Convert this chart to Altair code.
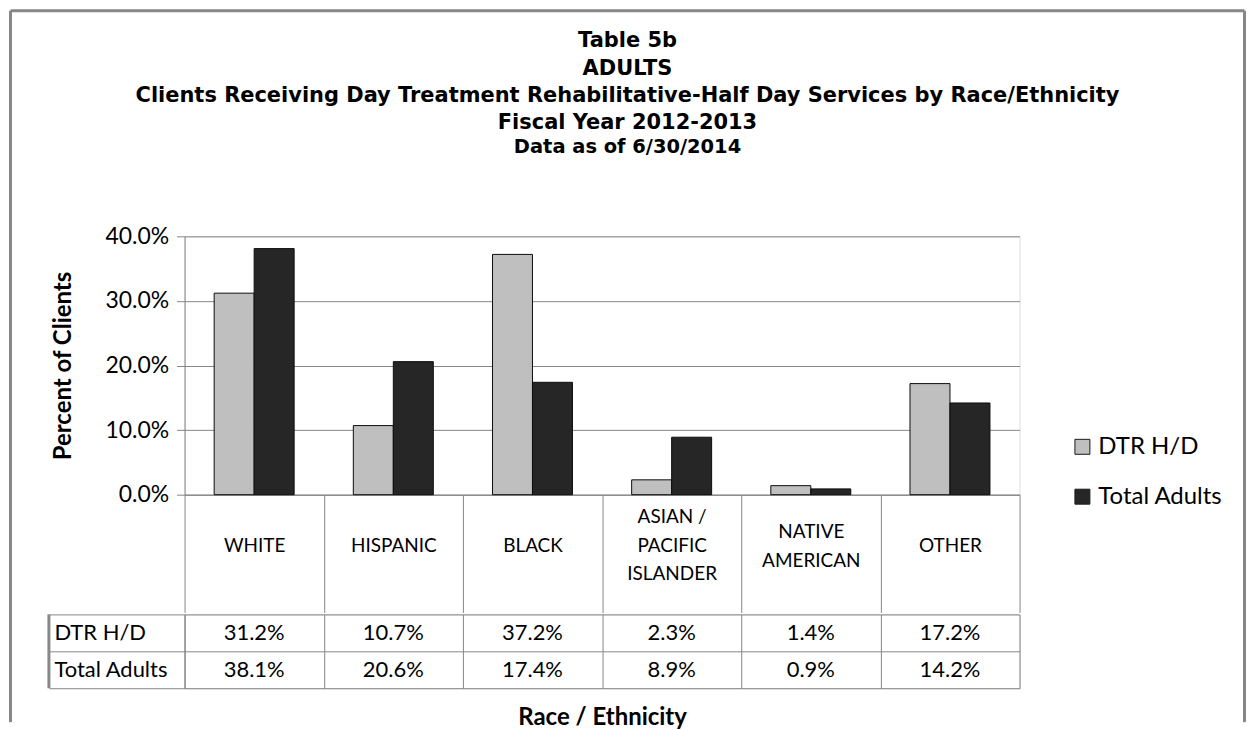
import altair as alt
import pandas as pd

# ---- data ----
categories = ["WHITE", "HISPANIC", "BLACK", "ASIAN /|PACIFIC|ISLANDER", "NATIVE|AMERICAN", "OTHER"]
series = ["DTR H/D", "Total Adults"]
dtr_values = [31.2, 10.7, 37.2, 2.3, 1.4, 17.2]
total_values = [38.1, 20.6, 17.4, 8.9, 0.9, 14.2]
y_ticks = [0.0, 0.1, 0.2, 0.3, 0.4]
title_lines = [
    "Table 5b",
    "ADULTS",
    "Clients Receiving Day Treatment Rehabilitative-Half Day Services by Race/Ethnicity",
    "Fiscal Year 2012-2013",
]
subtitle_line = "Data as of 6/30/2014"

rows = []
for s, vals in zip(series, [dtr_values, total_values]):
    for c, v in zip(categories, vals):
        rows.append({"category": c, "series": s, "value": v / 100})
df = pd.DataFrame(rows)
frame_df = pd.DataFrame({"k": [0]})

FONT = "Lato"
TFONT = "DejaVu Sans"
GRID = "#868686"
FRAME = "#878787"
W, H = 837, 259
HEADER = 118
NLINES = "length(split(datum.value, '|'))"

# header labels: vertically centred whatever their number of lines
label_baseline = {
    "condition": [
        {"test": f"{NLINES} >= 3", "value": "line-bottom"},
        {"test": f"{NLINES} <= 1", "value": "line-top"},
    ],
    "value": "middle",
}

x_top = alt.X(
    "category:N", sort=categories,
    scale=alt.Scale(paddingInner=0, paddingOuter=0),
    axis=alt.Axis(
        title=None, labelAngle=0, labelExpr="split(datum.label, '|')",
        tickBand="extent", tickSize=HEADER, tickColor=GRID, domainColor=GRID,
        labelBaseline=label_baseline, labelPadding=-81, labelFontSize=19,
        labelLineHeight=28.5, labelColor="black", labelFont=FONT,
    ),
)

bars = alt.Chart(df).mark_bar(stroke="#0d0d0d", strokeWidth=1).encode(
    x=x_top,
    xOffset=alt.XOffset("series:N", sort=series,
                        scale=alt.Scale(paddingInner=0, paddingOuter=0.74)),
    y=alt.Y(
        "value:Q", scale=alt.Scale(domain=[0, 0.4], nice=False),
        axis=alt.Axis(
            values=y_ticks, format=".1%", title="Percent of Clients",
            titleFontSize=24, titleFont=FONT, titleFontWeight="bold",
            titleColor="black", titlePadding=29, labelFontSize=23,
            labelFont=FONT, labelColor="black", labelPadding=8, tickSize=8,
            tickColor=GRID, domainColor=GRID, gridColor=GRID, grid=True,
        ),
    ),
    color=alt.Color(
        "series:N", sort=series,
        scale=alt.Scale(domain=series, range=["#bfbfbf", "#262626"]),
        legend=alt.Legend(
            title=None, orient="none", legendX=888, legendY=199,
            symbolType="square", symbolSize=225, symbolStrokeColor="#1a1a1a",
            symbolStrokeWidth=1, labelFontSize=24, labelFont=FONT,
            labelColor="black", rowPadding=26, labelOffset=4, padding=0,
        ),
    ),
)


def vrule(x, y1, y2):
    return alt.Chart(frame_df).mark_rule(color=FRAME, strokeWidth=3).encode(
        x=alt.value(x), y=alt.value(y1), y2=alt.value(y2))


def hrule(y, x1, x2):
    return alt.Chart(frame_df).mark_rule(color=FRAME, strokeWidth=3).encode(
        y=alt.value(y), x=alt.value(x1), x2=alt.value(x2))


FL, FR, FT = -174.5, 1062.5, -226
top = alt.layer(
    bars,
    vrule(FL, FT, H + HEADER),
    vrule(FR, FT, H + HEADER),
    hrule(FT, FL, FR),
).properties(width=W, height=H)

table_base = alt.Chart(df).encode(
    x=alt.X(
        "category:N", sort=categories,
        scale=alt.Scale(paddingInner=0, paddingOuter=0),
        axis=alt.Axis(
            labels=False, ticks=False, domain=False, grid=True,
            tickBand="extent", gridColor=GRID, title="Race / Ethnicity",
            titleFont=FONT, titleFontSize=24, titleFontWeight="bold",
            titleColor="black", titlePadding=17,
        ),
    ),
    y=alt.Y(
        "series:N", sort=series,
        scale=alt.Scale(paddingInner=0, paddingOuter=0),
        axis=alt.Axis(
            title=None, grid=True, tickBand="extent", gridColor=GRID,
            tickSize=136, tickColor=GRID, domainColor=GRID, labelAlign="left",
            labelPadding=-5, labelFontSize=22, labelFont=FONT,
            labelColor="black",
        ),
    ),
)
table_text = table_base.mark_text(fontSize=22, font=FONT, color="black").encode(
    text=alt.Text("value:Q", format=".1%"))

table = alt.layer(
    table_text,
    vrule(-136, 0, 74),
    vrule(FL, -6, 108),
    vrule(FR, -6, 108),
).properties(width=W, height=74)

chart = alt.vconcat(top, table, spacing=-20).resolve_scale(
    color="independent"
).properties(
    padding=0,
    title=alt.Title(
        text=title_lines, subtitle=subtitle_line, font=TFONT, fontSize=21,
        fontWeight="bold", lineHeight=27.3, color="black",
        subtitleFont=TFONT, subtitleFontSize=19.5, subtitleFontWeight="bold",
        subtitleColor="black", subtitlePadding=5, anchor="middle", offset=-148,
    ),
).configure_view(stroke=None).configure(background="white")

chart.save("out.html", embed_options={"renderer": "svg", "actions": False})
